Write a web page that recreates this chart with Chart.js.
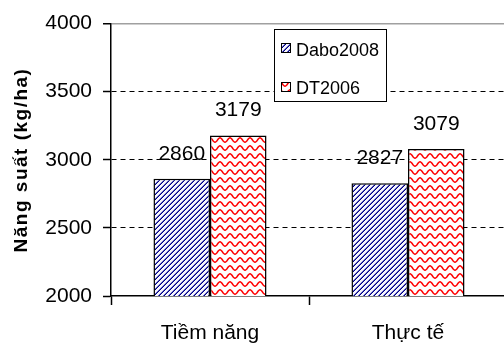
<!DOCTYPE html>
<html>
<head>
<meta charset="utf-8">
<script src="https://cdn.jsdelivr.net/npm/chart.js@4/dist/chart.umd.min.js"></script>
<style>
  html, body { margin: 0; padding: 0; overflow: hidden; background: #fff; }
  canvas { display: block; }
</style>
</head>
<body>
<canvas id="c" width="512" height="352"></canvas>
<script>
// Yield of two rice varieties: potential vs. actual
const categories = ['Tiềm năng', 'Thực tế'];
const seriesNames = ['Dabo2008', 'DT2006'];
const dabo2008 = [2860, 2827];
const dt2006 = [3179, 3079];
const yTicks = [2000, 2500, 3000, 3500, 4000];
const yTitle = 'Năng suất (kg/ha)';

const FONT = '"Liberation Sans", Arial, sans-serif';
Chart.defaults.font.family = FONT;
Chart.defaults.color = '#000';

const canvas = document.getElementById('c');
const mainCtx = canvas.getContext('2d');

// navy diagonal hatch
function hatchPattern() {
  const n = 5;
  const c = document.createElement('canvas');
  c.width = n; c.height = n;
  const g = c.getContext('2d');
  const img = g.createImageData(n, n);
  for (let y = 0; y < n; y++) {
    for (let x = 0; x < n; x++) {
      const k = (x + y) % n;
      let col = [246, 246, 252];
      if (k === 4) col = [0, 0, 128];
      else if (k === 3) col = [96, 96, 196];
      const i = (y * n + x) * 4;
      img.data[i] = col[0]; img.data[i + 1] = col[1]; img.data[i + 2] = col[2]; img.data[i + 3] = 255;
    }
  }
  g.putImageData(img, 0, 0);
  return mainCtx.createPattern(c, 'repeat');
}

// red wavy lines
function wavePattern() {
  const w = 10, h = 8;
  const c = document.createElement('canvas');
  c.width = w; c.height = h;
  const g = c.getContext('2d');
  g.fillStyle = '#fff';
  g.fillRect(0, 0, w, h);
  g.strokeStyle = '#ff0000';
  g.lineWidth = 1.5;
  g.beginPath();
  for (let x = -2; x <= w + 2; x += 0.5) {
    const y = 4 - 2.2 * Math.cos(2 * Math.PI * x / w);
    if (x === -2) g.moveTo(x, y); else g.lineTo(x, y);
  }
  g.stroke();
  return mainCtx.createPattern(c, 'repeat');
}

const fills = [hatchPattern(), wavePattern()];

const valueLabels = {
  id: 'valueLabels',
  afterDatasetsDraw(chart) {
    const ctx = chart.ctx;
    ctx.save();
    ctx.font = '21px ' + FONT;
    ctx.fillStyle = '#000';
    ctx.textAlign = 'center';
    ctx.textBaseline = 'alphabetic';
    chart.data.datasets.forEach((ds, di) => {
      chart.getDatasetMeta(di).data.forEach((bar, i) => {
        ctx.fillText(String(ds.data[i]), bar.x, bar.y - 19);
      });
    });
    ctx.restore();
  }
};

const boxLegend = {
  id: 'boxLegend',
  afterDraw(chart) {
    const ctx = chart.ctx;
    ctx.save();
    ctx.fillStyle = '#fff';
    ctx.fillRect(274, 29, 112, 72);
    ctx.strokeStyle = '#000';
    ctx.lineWidth = 1;
    ctx.strokeRect(274.5, 29.5, 112, 72);
    ctx.font = '18px ' + FONT;
    ctx.textAlign = 'left';
    ctx.textBaseline = 'alphabetic';
    const rows = [{ y: 43, base: 56 }, { y: 82, base: 94 }];
    chart.data.datasets.forEach((ds, i) => {
      const r = rows[i];
      ctx.fillStyle = ds.backgroundColor;
      ctx.fillRect(281, r.y, 10, 10);
      ctx.strokeStyle = '#000';
      ctx.strokeRect(281.5, r.y + 0.5, 9, 9);
      ctx.fillStyle = '#000';
      ctx.fillText(ds.label, 296, r.base);
    });
    ctx.restore();
  }
};

const yAxisTitle = {
  id: 'yAxisTitle',
  afterDraw(chart) {
    const ctx = chart.ctx;
    ctx.save();
    ctx.translate(22, 160);
    ctx.rotate(-Math.PI / 2);
    ctx.font = 'bold 19px ' + FONT;
    if ('letterSpacing' in ctx) ctx.letterSpacing = '1.5px';
    ctx.fillStyle = '#000';
    ctx.textAlign = 'center';
    ctx.textBaseline = 'middle';
    ctx.fillText(yTitle, 0, 0);
    ctx.restore();
  }
};

const isTick = (c, v) => c.tick && c.tick.value === v;

new Chart(canvas, {
  type: 'bar',
  data: {
    labels: categories,
    datasets: [
      { label: seriesNames[0], data: dabo2008, backgroundColor: fills[0], borderColor: '#000', borderWidth: 1.5 },
      { label: seriesNames[1], data: dt2006, backgroundColor: fills[1], borderColor: '#000', borderWidth: 1.5 }
    ]
  },
  options: {
    responsive: false,
    animation: false,
    devicePixelRatio: 1,
    layout: { padding: { top: 20, right: 5, left: 0, bottom: 0 } },
    datasets: { bar: { barPercentage: 1, categoryPercentage: 0.571 } },
    plugins: { legend: { display: false }, tooltip: { enabled: false } },
    scales: {
      x: {
        ticks: { color: '#000', padding: 16, font: { size: 21 } },
        grid: { drawOnChartArea: false, drawTicks: true, tickLength: 9, tickColor: '#000', tickWidth: 1.5, offset: true },
        border: { color: '#000', width: 1.5 },
        afterFit(s) { s.height = 56; }
      },
      y: {
        min: yTicks[0],
        max: yTicks[yTicks.length - 1],
        afterBuildTicks(s) { s.ticks = yTicks.map(v => ({ value: v })); },
        ticks: { color: '#000', padding: 11, font: { size: 21 }, callback: v => String(v) },
        grid: {
          color: c => isTick(c, 4000) ? '#a0a0a0' : (isTick(c, 2000) ? 'rgba(0,0,0,0)' : '#000'),
          lineWidth: c => isTick(c, 4000) ? 1.5 : 1,
          tickColor: '#000',
          tickLength: 8,
          tickWidth: 1.5,
          tickBorderDash: []
        },
        border: {
          color: '#000',
          width: 1.5,
          dash: c => isTick(c, 4000) ? [] : [5, 4]
        },
        afterFit(s) { s.width = 111; }
      }
    }
  },
  plugins: [valueLabels, boxLegend, yAxisTitle]
});
</script>
</body>
</html>
